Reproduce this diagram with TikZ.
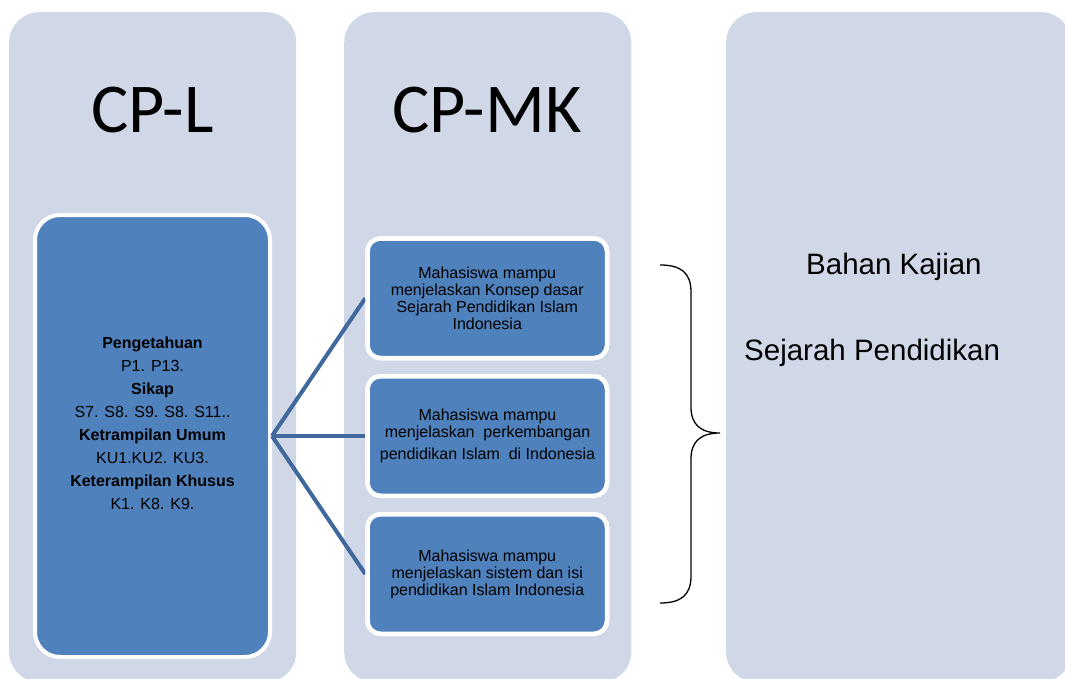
\documentclass[tikz,border=0pt]{standalone}
\usepackage{fontspec}
\setmainfont{Liberation Sans}
\newfontfamily\calibri{Carlito}
\definecolor{panelfill}{HTML}{D0D8E8}
\definecolor{boxblue}{HTML}{4F81BD}
\definecolor{linkblue}{HTML}{41689C}
\tikzset{
  panelbox/.style={fill=panelfill, draw=none, rounded corners=30pt, anchor=north west, inner sep=0pt},
  bigbox/.style={fill=boxblue, draw=white, line width=4pt, rounded corners=25pt, inner sep=0pt},
  mkbox/.style={fill=boxblue, draw=white, line width=4.5pt, rounded corners=13pt, inner sep=0pt,
                minimum width=239.5pt, minimum height=119.5pt},
  bigtitle/.style={font=\calibri\fontsize{70}{84}\selectfont, anchor=base, inner sep=0pt},
  smalltext/.style={font=\fontsize{16}{17}\selectfont, align=center, inner sep=0pt},
  righttext/.style={font=\fontsize{29.5}{34}\selectfont, anchor=base west, inner sep=0pt},
  link/.style={draw=linkblue, line width=4pt},
  bracepath/.style={draw=black, line width=1.3pt}
}
\begin{document}
\begin{tikzpicture}[x=1pt,y=-1pt]
\useasboundingbox (0,0) rectangle (1065,679);
\begin{scope}
\clip (0,0) rectangle (1065,679);
% panels
\node[panelbox, minimum width=287pt, minimum height=670pt] (p1) at (9,12) {};
\node[panelbox, minimum width=287pt, minimum height=670pt] (p2) at (344,12) {};
\node[panelbox, minimum width=345pt, minimum height=670pt] (p3) at (726,12) {};
\end{scope}
% titles
\node[bigtitle] (t1) at (152.5,133) {CP-L};
\node[bigtitle] (t2) at (487,133) {CP-MK};
% left box
\node[bigbox, minimum width=235pt, minimum height=442pt] (lb) at (152.5,436) {};
\node[smalltext, font=\fontsize{16}{23}\selectfont] (lbt) at (152.5,423) {%
\textbf{Pengetahuan}\\P1. P13.\\\textbf{Sikap}\\S7. S8. S9. S8. S11..\\%
\textbf{Ketrampilan Umum}\\KU1.KU2. KU3.\\\textbf{Keterampilan Khusus}\\K1. K8. K9.};
% connectors
\node[mkbox] (m1) at (487.25,298.25) {};
\node[mkbox] (m2) at (487.25,436) {};
\node[mkbox] (m3) at (487.25,574) {};
\draw[link] (lb.east) -- (m1.west);
\draw[link] (lb.east) -- (m2.west);
\draw[link] (lb.east) -- (m3.west);
\node[mkbox] at (m1) {};
\node[mkbox] at (m2) {};
\node[mkbox] at (m3) {};
\node[smalltext] (m1t) at (m1) {Mahasiswa mampu\\menjelaskan Konsep dasar\\Sejarah Pendidikan Islam\\Indonesia};
\node[smalltext] (m2t) at (487.5,436) {Mahasiswa mampu\\menjelaskan\ \ perkembangan\\[5pt]pendidikan Islam\ \ di Indonesia};
\node[smalltext] (m3t) at (m3) {Mahasiswa mampu\\menjelaskan sistem dan isi\\pendidikan Islam Indonesia};
% brace
\coordinate (bt) at (660,265);
\coordinate (bm) at (720,433);
\coordinate (bb) at (660,603);
\draw[bracepath] (bt) .. controls (680,265) and (691,272) .. (691,292) -- (691,407)
  .. controls (691,424) and (700,433) .. (bm)
  .. controls (700,433) and (691,442) .. (691,459) -- (691,576)
  .. controls (691,596) and (680,603) .. (bb);
% right texts
\node[righttext] (r1) at (806,274) {Bahan Kajian};
\node[righttext] (r2) at (744,360) {Sejarah Pendidikan};
\end{tikzpicture}
\end{document}
